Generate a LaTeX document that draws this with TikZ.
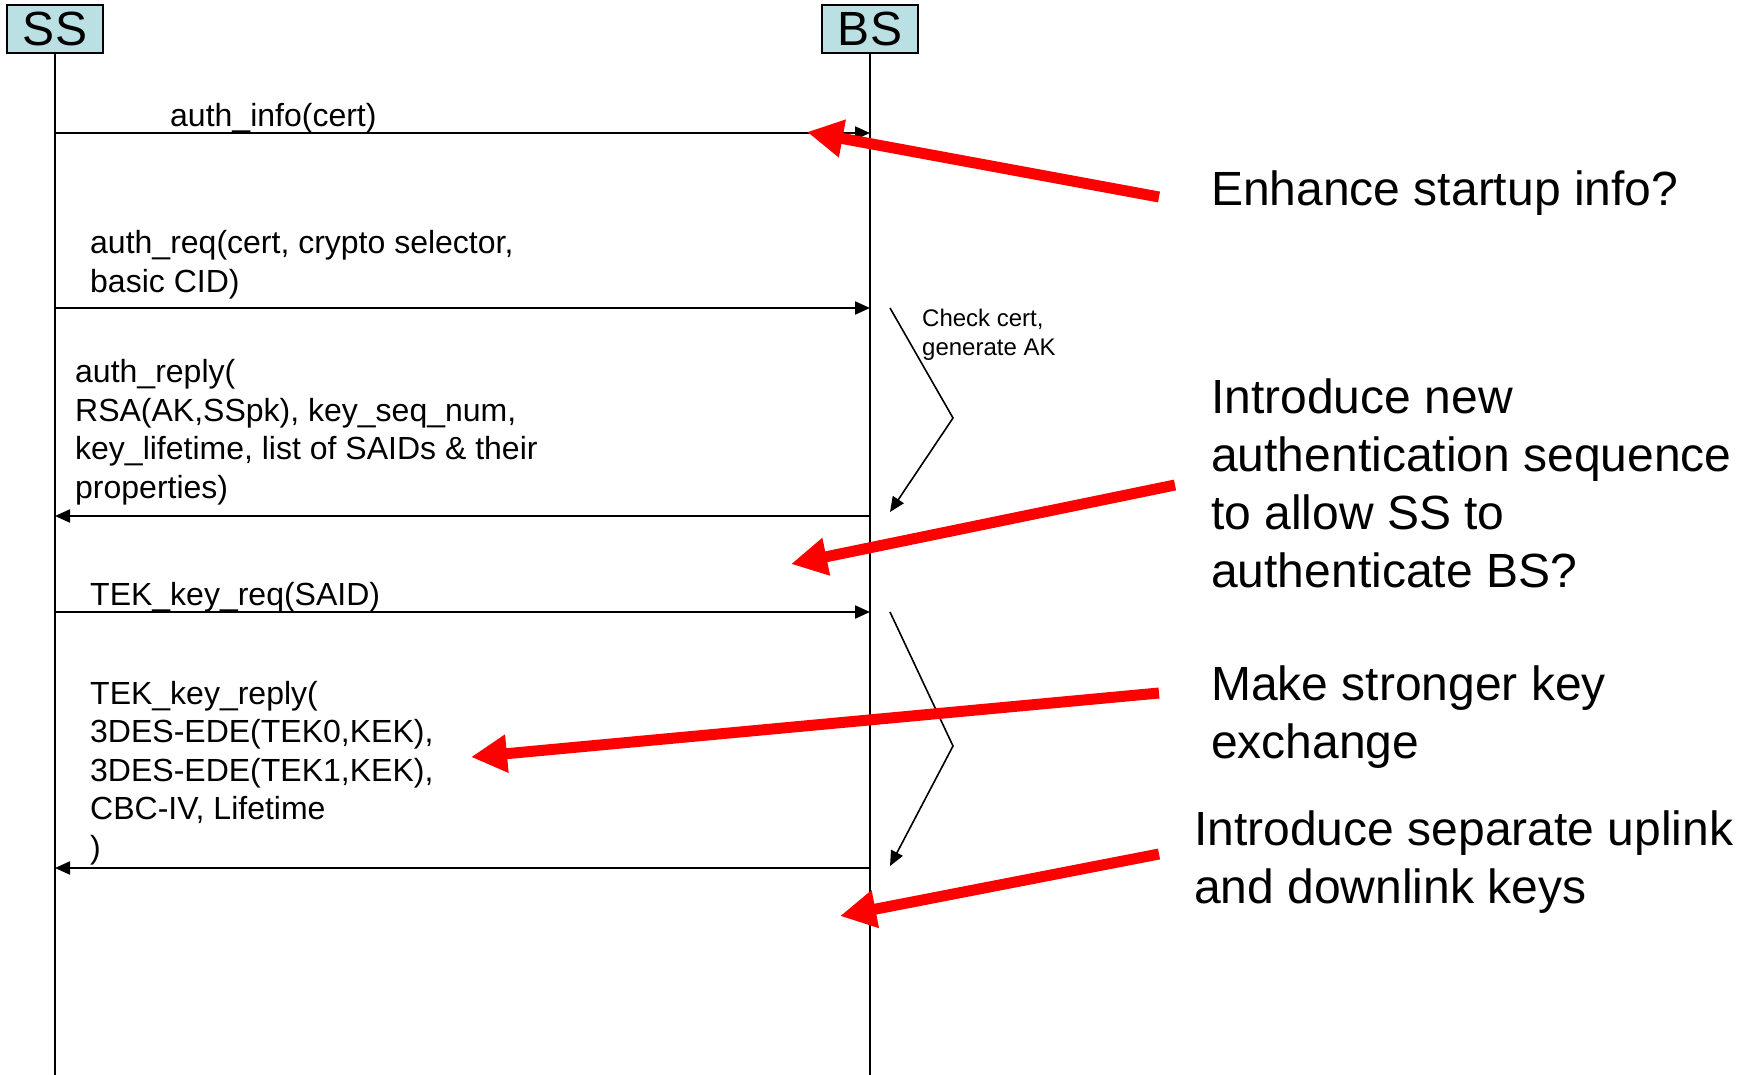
\documentclass[tikz,border=0pt]{standalone}
\usepackage{fontspec}
\setmainfont{Liberation Sans}
\usetikzlibrary{arrows.meta}
\definecolor{headfill}{RGB}{186,224,228}
\newcommand{\msgfont}{\fontsize{32}{38.5}\selectfont}
\newcommand{\notefont}{\fontsize{24}{29}\selectfont}
\newcommand{\bigfont}{\fontsize{48}{58}\selectfont}

\begin{document}
\begin{tikzpicture}[x=1pt,y=-1pt,
  actor/.style={draw,line width=2pt,fill=headfill,minimum width=96pt,minimum height=48pt,inner sep=0pt,font=\fontsize{48}{52}\selectfont},
  lifeline/.style={line width=1.8pt},
  msg/.style={line width=2.2pt,-{Triangle[length=15pt,width=13pt]}},
  msglabel/.style={anchor=base west,inner sep=0pt,align=left,font=\msgfont},
  remark/.style={anchor=base west,inner sep=0pt,align=left,font=\bigfont},
  redarrow/.style={red,line width=11pt,-{Triangle[length=36pt,width=36pt]}}]
\useasboundingbox (0,0) rectangle (1752,1075);

% actors and lifelines
\node[actor] (SS) at (55,29) {SS};
\node[actor] (BS) at (870,29) {BS};
\coordinate (SSend) at (55,1075);
\coordinate (BSend) at (870,1075);
\draw[lifeline] (SS) -- (SSend);
\draw[lifeline] (BS) -- (BSend);

\foreach \n/\y in {1/133,2/308,3/516,4/612,5/868} {
  \coordinate (ss\n) at (55,\y);
  \coordinate (bs\n) at (870,\y);
}

% messages (labels placed by the baseline of their last line)
\draw[msg] (ss1) -- (bs1);
\draw[msg] (ss2) -- (bs2);
\draw[msg] (bs3) -- (ss3);
\draw[msg] (ss4) -- (bs4);
\draw[msg] (bs5) -- (ss5);

\node[msglabel] (info) at (170,127) {auth\_info(cert)};
\node[msglabel] (req) at (90,292) {auth\_req(cert, crypto selector,\\basic CID)};
\node[msglabel] (reply) at (75,498) {auth\_reply(\\RSA(AK,SSpk), key\_seq\_num,\\key\_lifetime, list of SAIDs \& their\\properties)};
\node[msglabel] (tekreq) at (90,605) {TEK\_key\_req(SAID)};
\node[msglabel] (tekreply) at (90,858) {TEK\_key\_reply(\\3DES-EDE(TEK0,KEK),\\3DES-EDE(TEK1,KEK),\\CBC-IV, Lifetime\\)};

% processing at BS
\coordinate (ka) at (890,308);
\coordinate (kb) at (953,418);
\coordinate (kc) at (890,512);
\draw[msg,line width=1.6pt] (ka) -- (kb) -- (kc);
\node[anchor=base west,inner sep=0pt,align=left,font=\notefont] (check) at (922,355) {Check cert,\\generate AK};

\coordinate (ta) at (890,612);
\coordinate (tb) at (953,746);
\coordinate (tc) at (890,866);
\draw[msg,line width=1.6pt] (ta) -- (tb) -- (tc);

% remarks
\node[remark] (r1) at (1211,206) {Enhance startup info?};
\node[remark] (r2) at (1211,587) {Introduce new\\authentication sequence\\to allow SS to\\authenticate BS?};
\node[remark] (r3) at (1211,758) {Make stronger key\\exchange};
\node[remark] (r4) at (1194,903) {Introduce separate uplink\\and downlink keys};

\coordinate (p1) at (1159,197);
\coordinate (q1) at (807,132);
\coordinate (p2) at (1175,485);
\coordinate (q2) at (791,564);
\coordinate (p3) at (1159,693);
\coordinate (q3) at (471,757);
\coordinate (p4) at (1159,854);
\coordinate (q4) at (840,916);
\foreach \i in {1,2,3,4}
  \draw[redarrow] (p\i) -- (q\i);

\end{tikzpicture}
\end{document}
